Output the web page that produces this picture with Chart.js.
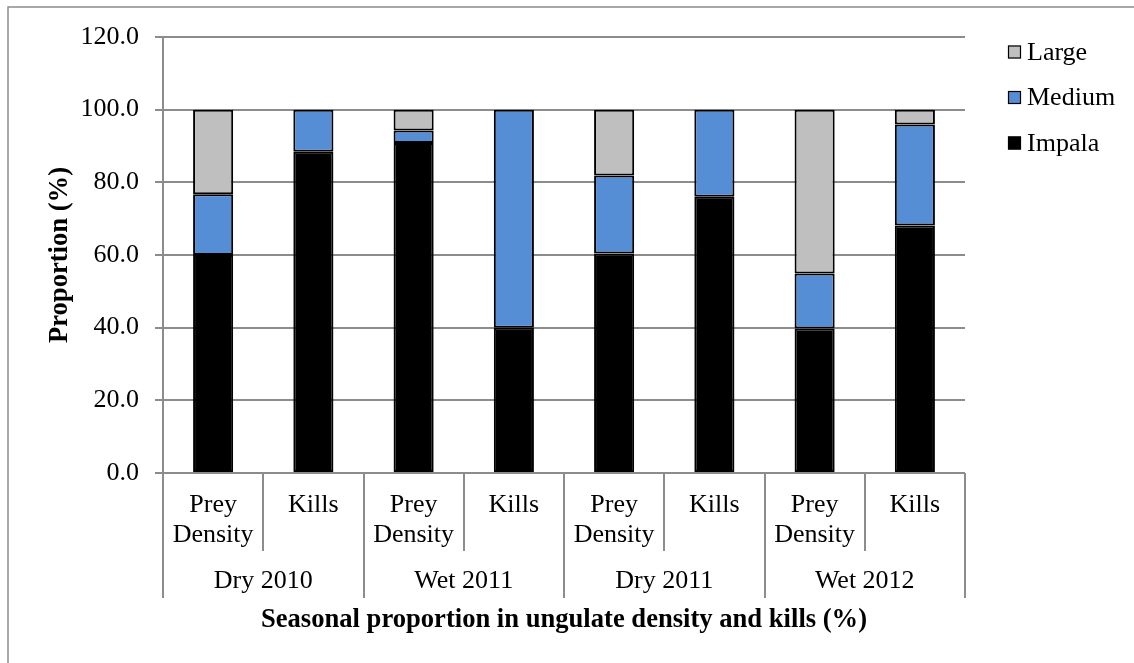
<!DOCTYPE html>
<html>
<head>
<meta charset="utf-8">
<script src="https://cdn.jsdelivr.net/npm/chart.js@4/dist/chart.umd.min.js"></script>
<style>
  html, body { margin: 0; padding: 0; background: #ffffff; }
  #wrap { width: 1134px; height: 663px; position: relative; }
</style>
</head>
<body>
<div id="wrap"><canvas id="c" width="1134" height="663"></canvas></div>
<script>
// Sub-categories along the x axis, grouped by season
const subLabels = [['Prey', 'Density'], 'Kills', ['Prey', 'Density'], 'Kills',
                   ['Prey', 'Density'], 'Kills', ['Prey', 'Density'], 'Kills'];
const seasons = ['Dry 2010', 'Wet 2011', 'Dry 2011', 'Wet 2012'];

// Proportions (%) by prey size class
const impala = [60.0, 88.4, 90.8, 40.0, 60.4, 76.0, 39.8, 68.1];
const medium = [16.7, 11.6, 3.5, 60.0, 21.5, 24.0, 15.1, 27.8];
const large  = [23.3, 0, 5.7, 0, 18.1, 0, 45.1, 4.1];

// Y axis ticks
const yMin = 0, yMax = 120, yStep = 20;

const FONT = 'Liberation Serif, "Times New Roman", serif';
const FSIZE = 26;
const TSIZE = 26.6;
const GRID = '#8c8c8c';

// Outer frame of the figure
const framePlugin = {
  id: 'frame',
  beforeDraw(chart) {
    const ctx = chart.ctx;
    ctx.save();
    ctx.strokeStyle = '#8c8c8c';
    ctx.lineWidth = 1.5;
    ctx.strokeRect(8, 7, 3000, 3000);
    ctx.restore();
  }
};

// Two-level category axis: separators and season labels
const groupAxisPlugin = {
  id: 'groupAxis',
  afterDraw(chart) {
    const x = chart.scales.x;
    const ctx = chart.ctx;
    const top = x.top;
    const n = chart.data.labels.length;
    const bounds = [];
    for (let i = 0; i <= n; i++) {
      if (i === 0) bounds.push(x.left);
      else if (i === n) bounds.push(x.right);
      else bounds.push((x.getPixelForTick(i - 1) + x.getPixelForTick(i)) / 2);
    }
    ctx.save();
    ctx.strokeStyle = GRID;
    ctx.lineWidth = 2;
    bounds.forEach((b, i) => {
      const len = (i % 2 === 0) ? 125 : 78;
      const px = Math.round(b);
      ctx.beginPath();
      ctx.moveTo(px, top);
      ctx.lineTo(px, top + len);
      ctx.stroke();
    });
    ctx.fillStyle = '#000';
    ctx.font = FSIZE + 'px ' + FONT;
    ctx.textAlign = 'center';
    ctx.textBaseline = 'middle';
    seasons.forEach((s, g) => {
      const cx = (bounds[2 * g] + bounds[2 * g + 2]) / 2;
      ctx.fillText(s, cx, top + 108);
    });
    ctx.restore();
  }
};

// Legend on the right, top to bottom: Large, Medium, Impala
const legendPlugin = {
  id: 'sideLegend',
  afterDraw(chart) {
    const ctx = chart.ctx;
    const ds = chart.data.datasets.slice().reverse();
    const x0 = 1008, y0 = 52, gap = 45.5, box = 13;
    ctx.save();
    ctx.font = FSIZE + 'px ' + FONT;
    ctx.textAlign = 'left';
    ctx.textBaseline = 'middle';
    ds.forEach((d, i) => {
      const cy = y0 + i * gap;
      ctx.fillStyle = d.backgroundColor;
      ctx.fillRect(x0, cy - box / 2, box, box);
      ctx.strokeStyle = '#000';
      ctx.lineWidth = 1.2;
      ctx.strokeRect(x0 + 0.5, cy - box / 2 + 0.5, box - 1, box - 1);
      ctx.fillStyle = '#000';
      ctx.fillText(d.label, x0 + box + 6, cy + 1);
    });
    ctx.restore();
  }
};

const barStyle = { borderColor: '#000', borderWidth: 2, borderSkipped: false,
                   barPercentage: 0.4, categoryPercentage: 1.0 };

new Chart(document.getElementById('c'), {
  type: 'bar',
  data: {
    labels: subLabels,
    datasets: [
      Object.assign({ label: 'Impala', data: impala, backgroundColor: '#000000' }, barStyle),
      Object.assign({ label: 'Medium', data: medium, backgroundColor: '#558ed5' }, barStyle),
      Object.assign({ label: 'Large',  data: large,  backgroundColor: '#bfbfbf' }, barStyle)
    ]
  },
  options: {
    responsive: false,
    animation: false,
    devicePixelRatio: 1,
    layout: { padding: { top: 37, right: 169, bottom: 0, left: 0 } },
    plugins: {
      legend: { display: false },
      tooltip: { enabled: false }
    },
    scales: {
      x: {
        stacked: true,
        grid: { display: false, drawTicks: false },
        border: { display: false },
        ticks: {
          color: '#000',
          padding: 17,
          maxRotation: 0,
          autoSkip: false,
          font: { family: FONT, size: FSIZE, lineHeight: '30px' }
        },
        title: {
          display: true,
          text: 'Seasonal proportion in ungulate density and kills (%)',
          color: '#000',
          font: { family: FONT, size: TSIZE, weight: 'bold' },
          padding: { top: 0, bottom: 27 }
        },
        afterFit(scale) { scale.height = 190; }
      },
      y: {
        stacked: true,
        min: yMin,
        max: yMax,
        ticks: {
          stepSize: yStep,
          color: '#000',
          padding: 16,
          font: { family: FONT, size: FSIZE },
          callback: (v) => Number(v).toFixed(1)
        },
        grid: { color: GRID, lineWidth: 2, tickLength: 8, drawTicks: true },
        border: { color: GRID, width: 2 },
        title: {
          display: true,
          text: 'Proportion (%)',
          color: '#000',
          font: { family: FONT, size: TSIZE, weight: 'bold' },
          padding: { top: 44, bottom: 0 }
        },
        afterFit(scale) { scale.width = 163; }
      }
    }
  },
  plugins: [framePlugin, groupAxisPlugin, legendPlugin]
});
</script>
</body>
</html>
